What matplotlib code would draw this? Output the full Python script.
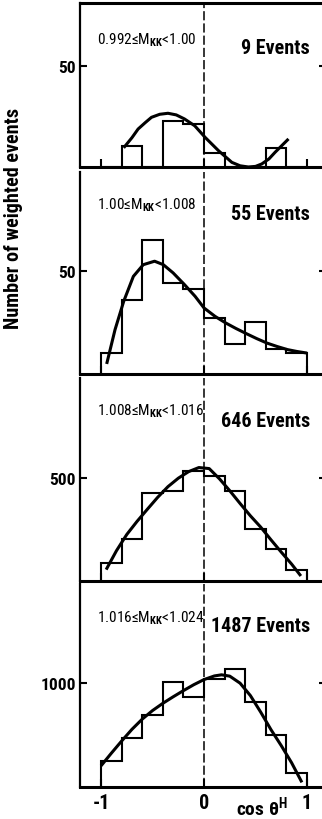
import matplotlib
matplotlib.use("Agg")
import matplotlib.pyplot as plt
from matplotlib.transforms import blended_transform_factory

plt.rcParams['font.family'] = ['Roboto Condensed', 'Barlow Condensed', 'DejaVu Sans']
plt.rcParams['mathtext.fontset'] = 'custom'
plt.rcParams['mathtext.rm'] = 'Roboto Condensed:bold'

# cos theta bins
edges = [-1.0, -0.8, -0.6, -0.4, -0.2, 0.0, 0.2, 0.4, 0.6, 0.8, 1.0]

mass_ranges = ['0.992≤M$_{\\mathrm{KK}}$<1.00',
               '1.00≤M$_{\\mathrm{KK}}$<1.008',
               '1.008≤M$_{\\mathrm{KK}}$<1.016',
               '1.016≤M$_{\\mathrm{KK}}$<1.024']
n_events = [9, 55, 646, 1487]
y_ticks = [50, 50, 500, 1000]
y_max = [81.2, 98.5, 986, 1960]

# weighted histograms
counts_1 = [0, 10.2, 0, 22.6, 21.3, 6.9, 0, 0, 9.2, 0]
counts_2 = [10.1, 36.2, 65.5, 44.4, 41.6, 27.3, 14.6, 25.2, 12.2, 10.2]
counts_3 = [83, 200, 424, 435, 532, 508, 435, 251, 154, 49]
counts_4 = [244, 465, 688, 1016, 869, 1044, 1137, 815, 497, 131]

# fitted curves
fit_x_1 = [-0.78, -0.70, -0.64, -0.57, -0.51, -0.43, -0.35, -0.27, -0.19, -0.09,
           0.01, 0.14, 0.27, 0.35, 0.43, 0.50, 0.56, 0.63, 0.69, 0.82]
fit_y_1 = [9.5, 14.5, 18.8, 22.0, 24.6, 26.1, 26.6, 25.8, 23.8, 20.4,
           14.7, 8.1, 2.3, 0.6, 0.0, 0.3, 1.5, 4.0, 7.3, 13.9]

fit_x_2 = [-0.945, -0.864, -0.78, -0.686, -0.59, -0.48, -0.395, -0.30, -0.19, -0.087,
           0.0, 0.107, 0.21, 0.31, 0.41, 0.51, 0.61, 0.71, 0.81, 0.90, 1.0]
fit_y_2 = [4.9, 21.6, 35.4, 47.6, 53.3, 55.0, 53.3, 49.3, 43.6, 37.9,
           32.2, 28.1, 24.9, 22.2, 19.7, 17.3, 15.1, 13.4, 11.9, 11.0, 10.2]

fit_x_3 = [-0.95, -0.85, -0.75, -0.65, -0.55, -0.45, -0.35, -0.25, -0.15, -0.05,
           0.05, 0.15, 0.25, 0.35, 0.45, 0.55, 0.65, 0.75, 0.85, 0.94]
fit_y_3 = [53, 145, 224, 288, 347, 405, 457, 498, 530, 550,
           545, 495, 437, 375, 315, 260, 198, 138, 80, 22]

fit_x_4 = [-1.0, -0.9, -0.8, -0.7, -0.6, -0.5, -0.4, -0.3, -0.2, -0.1,
           0.0, 0.1, 0.17, 0.25, 0.35, 0.45, 0.55, 0.65, 0.75, 0.85, 0.95]
fit_y_4 = [200, 322, 440, 553, 652, 735, 805, 868, 928, 985,
           1035, 1070, 1081, 1068, 1000, 880, 720, 550, 395, 230, 40]

counts = [counts_1, counts_2, counts_3, counts_4]
fits = [(fit_x_1, fit_y_1), (fit_x_2, fit_y_2), (fit_x_3, fit_y_3), (fit_x_4, fit_y_4)]

W, H = 322, 820
fig = plt.figure(figsize=(W / 100, H / 100), dpi=100)

tops = [4, 173, 379, 585]
bottoms = [168, 375, 581.5, 787.5]
label_y = [(0.78, 0.726), (0.842, 0.797), (0.839, 0.789), (0.836, 0.795)]

for i in range(4):
    ax = fig.add_axes([80 / W, 1 - bottoms[i] / H, 246 / W, (bottoms[i] - tops[i]) / H])
    ax.set_xlim(-1.204, 1.184)
    ax.set_ylim(0, y_max[i])

    ax.stairs(counts[i], edges, baseline=0, color='black', lw=1.5)
    ax.plot(fits[i][0], fits[i][1], color='black', lw=2.2, solid_capstyle='butt')
    ax.axvline(0, color='black', lw=1.1, ls=(0, (6, 2)))

    ax.spines['right'].set_visible(False)
    ax.spines['top'].set_visible(i == 0)
    ax.spines['top'].set_linewidth(2.2)
    ax.spines['left'].set_linewidth(1.6)
    ax.spines['bottom'].set_linewidth(2.2)

    ax.set_yticks([y_ticks[i]], [str(y_ticks[i])], fontweight='bold', fontsize=12.5)
    ax.tick_params(axis='y', direction='in', length=5, width=1.5, right=True, pad=3)
    ax.set_xticks([-1, 0, 1], ['-1', '0', '1'], fontweight='bold', fontsize=14.5)
    ax.tick_params(axis='x', direction='in', length=5.5, width=1.5, pad=5,
                   labelbottom=(i == 3))

    tr = blended_transform_factory(ax.transData, ax.transAxes)
    ax.text(-1.04, label_y[i][0], mass_ranges[i], transform=tr, ha='left', va='center',
            fontsize=11)
    ax.text(1.03, label_y[i][1], f'{n_events[i]} Events', transform=tr, ha='right',
            va='center', fontsize=14.5, fontweight='bold')

fig.text(14 / W, 1 - 218 / H, 'Number of weighted events', rotation=90, ha='center',
         va='center', fontsize=14.5, fontweight='bold')
fig.text(236 / W, 1 - 816 / H, 'cos θ$^{\\mathrm{H}}$', ha='left', va='baseline',
         fontsize=14, fontweight='bold')

fig.savefig('out.png', dpi=100)
